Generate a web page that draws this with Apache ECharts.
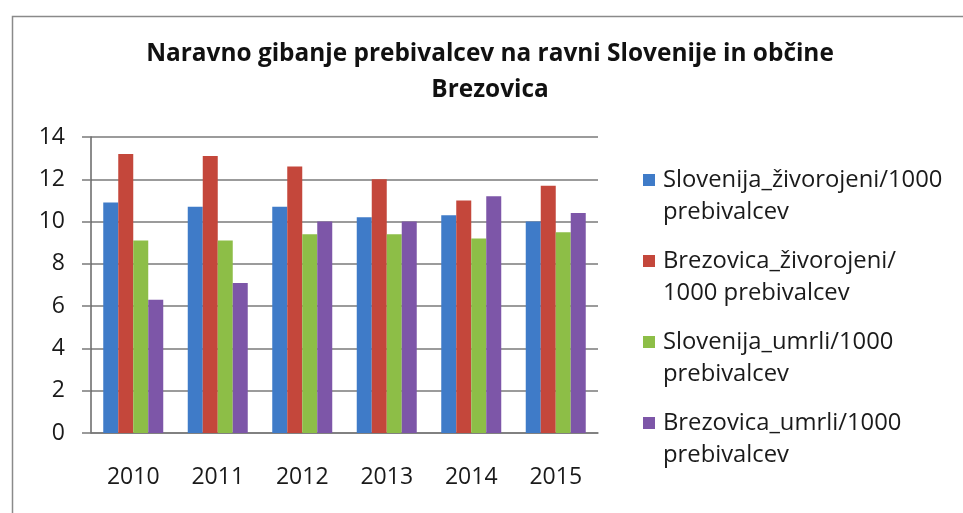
<!DOCTYPE html>
<html><head><meta charset="utf-8">
<script src="https://cdn.jsdelivr.net/npm/echarts@6/dist/echarts.min.js"></script>
<style>html,body{margin:0;padding:0;background:#fff}#c{width:963px;height:513px}</style>
</head><body><div id="c"></div>
<script>
const titleText = 'Naravno gibanje prebivalcev na ravni Slovenije in občine\nBrezovica';
const years = ['2010', '2011', '2012', '2013', '2014', '2015'];
const seriesNames = [
  'Slovenija_živorojeni/1000\nprebivalcev',
  'Brezovica_živorojeni/\n1000 prebivalcev',
  'Slovenija_umrli/1000\nprebivalcev',
  'Brezovica_umrli/1000\nprebivalcev'
];
const sloveniaBirths = [10.9, 10.7, 10.7, 10.2, 10.3, 10.0];
const brezovicaBirths = [13.2, 13.1, 12.6, 12.0, 11.0, 11.7];
const sloveniaDeaths = [9.1, 9.1, 9.4, 9.4, 9.2, 9.5];
const brezovicaDeaths = [6.3, 7.1, 10.0, 10.0, 11.2, 10.4];
const yMin = 0, yMax = 14, yStep = 2;

const colors = ['#3F7BC8', '#C4473B', '#8DBE47', '#7D56A8'];
const seriesData = [sloveniaBirths, brezovicaBirths, sloveniaDeaths, brezovicaDeaths];
const FONT = '"Open Sans"';

const chart = echarts.init(document.getElementById('c'), null, {renderer: 'canvas'});
chart.setOption({
  animation: false,
  backgroundColor: '#fff',
  color: colors,
  title: {
    text: titleText,
    left: 485,
    textAlign: 'center',
    top: 31,
    textStyle: {fontFamily: FONT, fontWeight: 'bold', fontSize: 24.4, lineHeight: 36, color: '#111'}
  },
  graphic: [{
    type: 'rect', left: 10, top: 14, silent: true, z: -1,
    shape: {width: 1000, height: 600},
    style: {fill: 'none', stroke: '#8a8a8a', lineWidth: 1.5}
  }],
  legend: {
    orient: 'vertical',
    left: 643,
    top: 164,
    padding: 0,
    itemGap: 17,
    itemWidth: 12,
    itemHeight: 44,
    icon: 'path://M0 0H12V12H0ZM0 43.99H0.01V44H0Z',
    textStyle: {fontFamily: FONT, fontSize: 23.8, lineHeight: 32, color: '#1a1a1a', padding: [0, 0, 0, 3]},
    itemStyle: {borderWidth: 0},
    data: seriesNames
  },
  grid: {left: 91, right: 365, top: 137, bottom: 80, containLabel: false},
  xAxis: {
    type: 'category',
    data: years,
    axisLine: {show: true, lineStyle: {color: '#7a7a7a', width: 1.5}},
    axisTick: {show: false},
    axisLabel: {fontFamily: FONT, fontSize: 23, lineHeight: 24, color: '#1a1a1a', margin: 32}
  },
  yAxis: {
    type: 'value',
    min: yMin, max: yMax, interval: yStep,
    axisLine: {show: true, lineStyle: {color: '#666', width: 1.5}},
    axisTick: {show: true, inside: false, length: 9, lineStyle: {color: '#7a7a7a', width: 1.5}},
    splitLine: {show: true, lineStyle: {color: '#7a7a7a', width: 1.5}},
    axisLabel: {fontFamily: FONT, fontSize: 23, color: '#1a1a1a', margin: 26}
  },
  series: seriesNames.map((name, i) => ({
    name: name,
    type: 'bar',
    data: seriesData[i],
    barGap: '0%',
    barCategoryGap: '29%',
    itemStyle: {color: colors[i]}
  }))
});
</script>
</body></html>
